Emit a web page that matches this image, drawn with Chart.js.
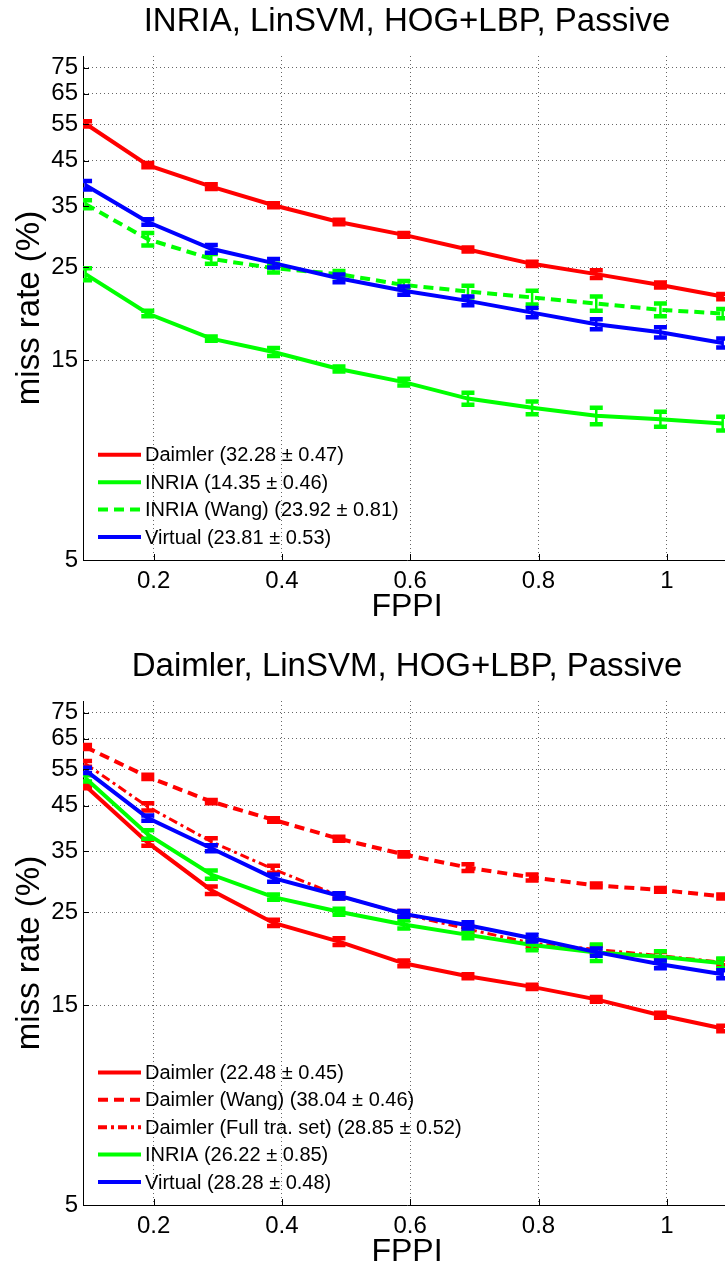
<!DOCTYPE html>
<html>
<head>
<meta charset="utf-8">
<title>miss rate vs FPPI</title>
<script src="https://cdn.jsdelivr.net/npm/chart.js@4.4.1/dist/chart.umd.min.js"></script>
<style>
  html, body { margin: 0; padding: 0; background: #fff; overflow: hidden; }
  #page { position: relative; width: 725px; height: 1267px; overflow: hidden; }
  .box { position: absolute; left: 0; width: 731px; height: 633px; }
</style>
</head>
<body>
<div id="page">
  <div class="box" style="top:0"><canvas id="chartInria"></canvas></div>
  <div class="box" style="top:645px"><canvas id="chartDaimler"></canvas></div>
</div>
<script>
// --- datos ---
const fppi = [0.094, 0.191, 0.29, 0.387, 0.489, 0.59, 0.69, 0.79, 0.89, 0.99, 1.087];
const xTickValues = [0.2, 0.4, 0.6, 0.8, 1];
const yTickValues = [5, 15, 25, 35, 45, 55, 65, 75];

// INRIA test set
const inriaDaimler = [55.1, 43.9, 39.0, 35.2, 32.1, 29.9, 27.6, 25.5, 24.1, 22.7, 21.3];
const inriaDaimlerErr = [0.8, 0.5, 0.5, 0.4, 0.4, 0.3, 0.3, 0.3, 0.5, 0.3, 0.3];
const inriaInria = [24.1, 19.4, 16.9, 15.7, 14.3, 13.3, 12.15, 11.55, 11.05, 10.85, 10.6];
const inriaInriaErr = [0.8, 0.3, 0.2, 0.35, 0.2, 0.25, 0.4, 0.4, 0.5, 0.45, 0.4];
const inriaWang = [35.4, 29.2, 26.2, 24.9, 24.1, 22.7, 21.9, 21.2, 20.5, 19.8, 19.4];
const inriaWangErr = [0.8, 1.0, 0.7, 0.6, 0.4, 0.5, 0.7, 0.8, 0.8, 0.7, 0.5];
const inriaVirtual = [39.3, 32.1, 27.7, 25.6, 23.55, 22.0, 20.8, 19.5, 18.3, 17.5, 16.5];
const inriaVirtualErr = [0.9, 0.5, 0.6, 0.6, 0.5, 0.5, 0.5, 0.5, 0.5, 0.5, 0.4];

// Daimler test set
const daimlerDaimler = [50.1, 36.7, 28.25, 23.6, 21.3, 18.9, 17.6, 16.6, 15.5, 14.2, 13.2];
const daimlerDaimlerErr = [0.6, 0.6, 0.6, 0.4, 0.4, 0.3, 0.2, 0.2, 0.2, 0.2, 0.2];
const daimlerWang = [62.1, 52.7, 46.0, 41.6, 37.5, 34.4, 32.0, 30.3, 29.0, 28.3, 27.3];
const daimlerWangErr = [0.7, 0.6, 0.4, 0.4, 0.4, 0.4, 0.6, 0.5, 0.3, 0.3, 0.3];
const daimlerFull = [56.6, 44.7, 36.9, 31.7, 27.4, 24.8, 22.8, 21.1, 20.4, 19.7, 19.0];
const daimlerFullErr = [0.9, 0.9, 0.7, 0.6, 0.4, 0.4, 0.4, 0.4, 0.4, 0.4, 0.3];
const daimlerInria = [52.3, 38.4, 30.8, 27.2, 25.1, 23.4, 22.1, 20.9, 20.05, 19.6, 18.9];
const daimlerInriaErr = [0.9, 0.9, 0.7, 0.4, 0.4, 0.5, 0.4, 0.6, 0.9, 0.6, 0.5];
const daimlerVirtual = [54.6, 42.0, 35.6, 30.2, 27.4, 24.8, 23.3, 21.7, 20.1, 18.8, 17.8];
const daimlerVirtualErr = [0.8, 0.6, 0.6, 0.6, 0.4, 0.4, 0.4, 0.4, 0.4, 0.4, 0.4];

const RED = "#ff0000", GREEN = "#00ff00", BLUE = "#0000ff";
const SOLID = [], DASHED = [10, 6], DASHDOT = [9, 4, 3, 4];
const FONT = "'Liberation Sans', Arial, Helvetica, sans-serif";

// --- barras de error (caps estilo MATLAB) ---
const errorBarsPlugin = {
  id: "errorBars",
  afterDatasetDraw(chart, args) {
    const ds = chart.data.datasets[args.index];
    if (!ds.errorValues) return;
    const { ctx, chartArea, scales } = chart;
    ctx.save();
    ctx.beginPath();
    ctx.rect(chartArea.left, chartArea.top, chartArea.width, chartArea.height);
    ctx.clip();
    ctx.strokeStyle = ds.borderColor;
    ds.data.forEach((p, i) => {
      const e = ds.errorValues[i];
      const x = scales.x.getPixelForValue(p.x);
      const yLo = scales.y.getPixelForValue(p.y - e);
      const yHi = scales.y.getPixelForValue(p.y + e);
      ctx.lineWidth = 2.5;
      ctx.beginPath();
      ctx.moveTo(x, yLo);
      ctx.lineTo(x, yHi);
      ctx.stroke();
      ctx.lineWidth = 4.5;
      ctx.beginPath();
      ctx.moveTo(x - 6.5, yLo);
      ctx.lineTo(x + 6.5, yLo);
      ctx.moveTo(x - 6.5, yHi);
      ctx.lineTo(x + 6.5, yHi);
      ctx.stroke();
    });
    ctx.restore();
  },
};

// --- marcas de tick hacia dentro ---
const innerTicksPlugin = {
  id: "innerTicks",
  afterDraw(chart) {
    const { ctx, chartArea, scales } = chart;
    ctx.save();
    ctx.strokeStyle = "#000";
    ctx.lineWidth = 1;
    ctx.beginPath();
    scales.x.ticks.forEach((t) => {
      const x = Math.round(scales.x.getPixelForValue(t.value)) + 0.5;
      ctx.moveTo(x, chartArea.bottom);
      ctx.lineTo(x, chartArea.bottom - 6);
    });
    scales.y.ticks.forEach((t) => {
      const y = Math.round(scales.y.getPixelForValue(t.value)) + 0.5;
      ctx.moveTo(chartArea.left, y);
      ctx.lineTo(chartArea.left + 6, y);
    });
    ctx.stroke();
    ctx.restore();
  },
};

// --- leyenda dentro del área (abajo a la izquierda, sin caja) ---
const insideLegendPlugin = {
  id: "insideLegend",
  afterDraw(chart) {
    const { ctx, chartArea } = chart;
    const items = chart.data.datasets;
    const rowH = 27.4;
    const x0 = chartArea.left + 15;
    ctx.save();
    ctx.font = "20px " + FONT;
    ctx.textBaseline = "middle";
    ctx.fillStyle = "#000";
    items.forEach((ds, i) => {
      const y = chartArea.bottom - 23 - (items.length - 1 - i) * rowH;
      ctx.strokeStyle = ds.borderColor;
      ctx.lineWidth = 4;
      ctx.setLineDash(ds.borderDash || []);
      ctx.beginPath();
      ctx.moveTo(x0, y);
      ctx.lineTo(x0 + 43, y);
      ctx.stroke();
      ctx.setLineDash([]);
      ctx.fillText(ds.label, x0 + 47, y + 1);
    });
    ctx.restore();
  },
};

function makeMissRateChart(canvasId, titleText, series) {
  const n = series.length;
  const datasets = series.map((s, i) => ({
    label: s.label,
    data: fppi.map((x, k) => ({ x, y: s.values[k] })),
    errorValues: s.errors,
    borderColor: s.color,
    borderWidth: s.width || 4,
    borderDash: s.dash,
    pointRadius: 0,
    tension: 0,
    fill: false,
    order: n - i, // el último queda encima, como en MATLAB
  }));

  return new Chart(document.getElementById(canvasId), {
    type: "line",
    data: { datasets },
    options: {
      responsive: true,
      maintainAspectRatio: false,
      animation: false,
      devicePixelRatio: 1,
      layout: { padding: 0 },
      plugins: {
        legend: { display: false },
        tooltip: { enabled: false },
        title: {
          display: true,
          text: titleText,
          fullSize: false,
          color: "#000",
          font: { family: FONT, size: 33, weight: "normal", lineHeight: 1.2 },
          padding: { top: 2, bottom: 14.4 },
        },
      },
      scales: {
        x: {
          type: "linear",
          min: 0.09,
          max: 1.1,
          afterBuildTicks: (scale) => {
            scale.ticks = xTickValues.map((v) => ({ value: v }));
          },
          afterFit: (scale) => {
            scale.height = 73;
          },
          ticks: {
            color: "#000",
            font: { family: FONT, size: 24 },
            padding: 7,
            maxRotation: 0,
            callback: (v) => String(v),
          },
          grid: { color: "rgba(0,0,0,0.6)", lineWidth: 1, drawTicks: false },
          border: { display: true, color: "#000", width: 1, dash: [1, 3] },
          title: {
            display: true,
            text: "FPPI",
            color: "#000",
            font: { family: FONT, size: 32, lineHeight: 1.2 },
            padding: { top: 0, bottom: 7 },
          },
        },
        y: {
          type: "logarithmic",
          min: 5,
          max: 80,
          afterBuildTicks: (scale) => {
            scale.ticks = yTickValues.map((v) => ({ value: v }));
          },
          afterFit: (scale) => {
            scale.width = 83;
          },
          ticks: {
            color: "#000",
            font: { family: FONT, size: 24 },
            padding: 5,
            callback: (v) => String(v),
          },
          grid: { color: "rgba(0,0,0,0.6)", lineWidth: 1, drawTicks: false },
          border: { display: true, color: "#000", width: 1, dash: [1, 3] },
          title: {
            display: true,
            text: "miss rate (%)",
            color: "#000",
            font: { family: FONT, size: 33, lineHeight: 1.2 },
            padding: { top: 10, bottom: 0 },
          },
        },
      },
    },
    plugins: [errorBarsPlugin, innerTicksPlugin, insideLegendPlugin],
  });
}

makeMissRateChart("chartInria", "INRIA, LinSVM, HOG+LBP, Passive", [
  { label: "Daimler (32.28 \u00b1 0.47)", values: inriaDaimler, errors: inriaDaimlerErr, color: RED, dash: SOLID },
  { label: "INRIA (14.35 \u00b1 0.46)", values: inriaInria, errors: inriaInriaErr, color: GREEN, dash: SOLID },
  { label: "INRIA (Wang) (23.92 \u00b1 0.81)", values: inriaWang, errors: inriaWangErr, color: GREEN, dash: DASHED },
  { label: "Virtual (23.81 \u00b1 0.53)", values: inriaVirtual, errors: inriaVirtualErr, color: BLUE, dash: SOLID },
]);

makeMissRateChart("chartDaimler", "Daimler, LinSVM, HOG+LBP, Passive", [
  { label: "Daimler (22.48 \u00b1 0.45)", values: daimlerDaimler, errors: daimlerDaimlerErr, color: RED, dash: SOLID },
  { label: "Daimler (Wang) (38.04 \u00b1 0.46)", values: daimlerWang, errors: daimlerWangErr, color: RED, dash: DASHED },
  { label: "Daimler (Full tra. set) (28.85 \u00b1 0.52)", values: daimlerFull, errors: daimlerFullErr, color: RED, dash: DASHDOT, width: 3 },
  { label: "INRIA (26.22 \u00b1 0.85)", values: daimlerInria, errors: daimlerInriaErr, color: GREEN, dash: SOLID },
  { label: "Virtual (28.28 \u00b1 0.48)", values: daimlerVirtual, errors: daimlerVirtualErr, color: BLUE, dash: SOLID },
]);
</script>
</body>
</html>
